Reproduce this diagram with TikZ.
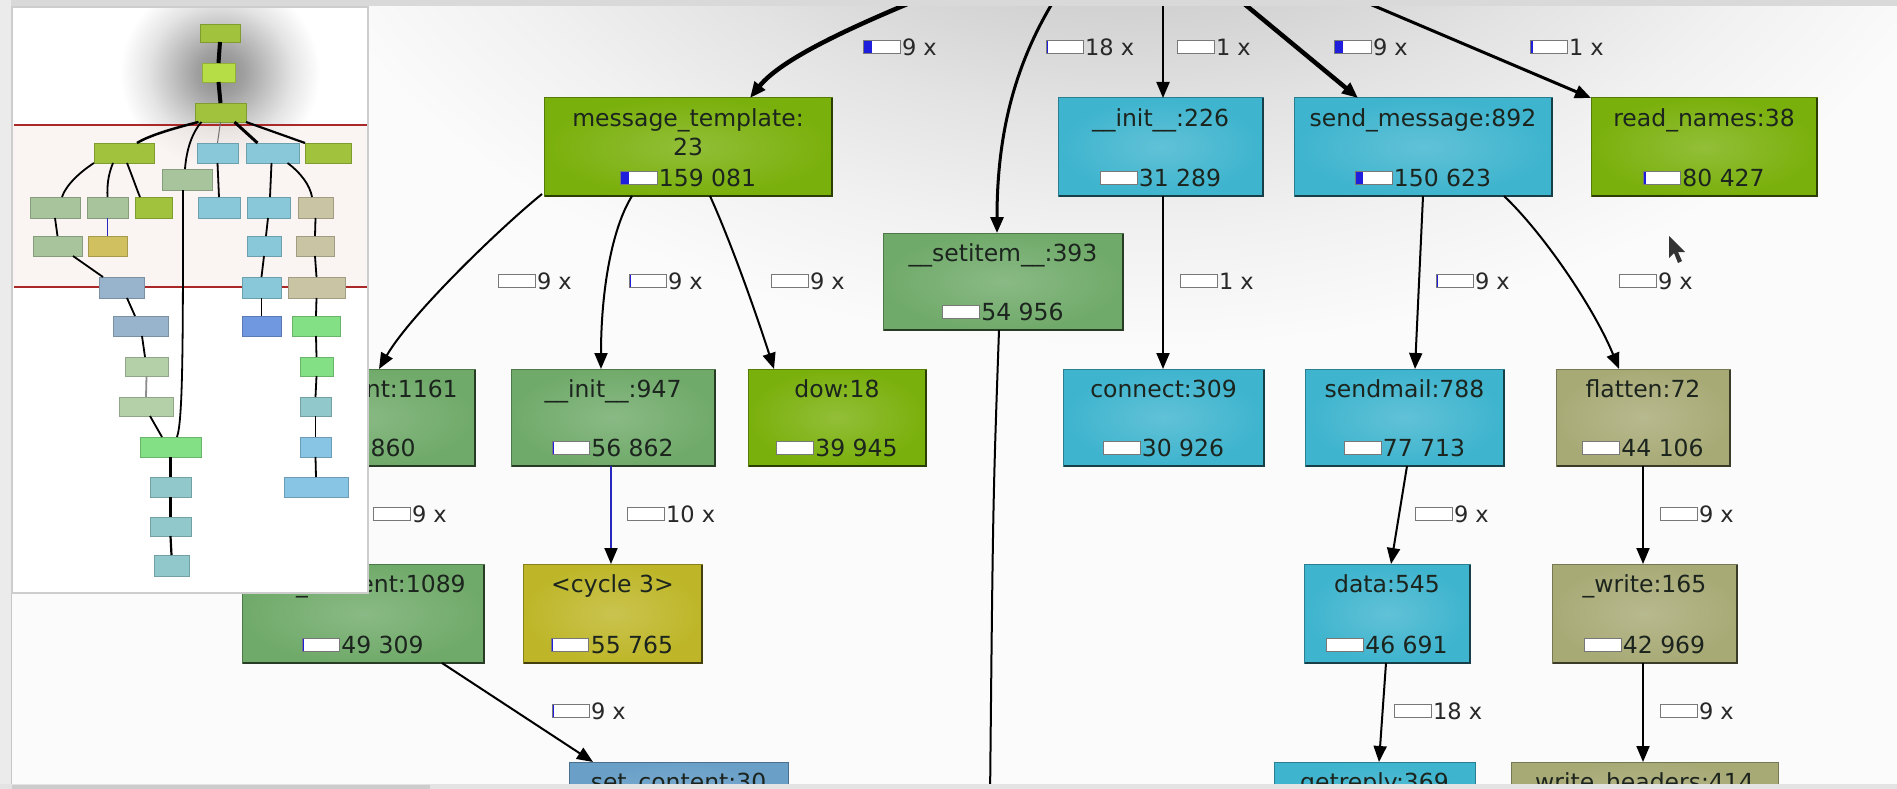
\documentclass[tikz,border=0pt]{standalone}
\usepackage{fontspec}
\setmainfont{DejaVu Sans}
\usetikzlibrary{arrows.meta,fit,calc}

\definecolor{pagebg}{RGB}{251,251,251}
\definecolor{gl0}{RGB}{168,168,168}
\definecolor{gl1}{RGB}{188,188,188}
\definecolor{gl2}{RGB}{209,209,209}
\definecolor{gl3}{RGB}{227,227,227}
\definecolor{gl4}{RGB}{241,241,241}
\definecolor{mg0}{RGB}{138,138,138}
\definecolor{mg1}{RGB}{160,160,160}
\definecolor{mg2}{RGB}{194,194,194}
\definecolor{mg3}{RGB}{228,228,228}
\definecolor{white0}{RGB}{255,255,255}
\pgfdeclareradialshading{mainglow}{\pgfpoint{0bp}{0bp}}{color(0bp)=(gl0); color(5bp)=(gl1); color(10bp)=(gl2); color(15bp)=(gl3); color(20bp)=(gl4); color(25bp)=(pagebg); color(50bp)=(pagebg)}
\pgfdeclareradialshading{miniglow}{\pgfpoint{0bp}{0bp}}{color(0bp)=(mg0); color(6bp)=(mg1); color(12bp)=(mg2); color(18bp)=(mg3); color(25bp)=(white0); color(50bp)=(white0)}

% main node colours
\definecolor{cMT}{RGB}{122,176,12}
\definecolor{cCy}{RGB}{62,180,206}
\definecolor{cSage}{RGB}{112,170,106}
\definecolor{cOl}{RGB}{190,182,40}
\definecolor{cKh}{RGB}{168,170,118}
\definecolor{cSteel}{RGB}{106,160,200}
\definecolor{ntxt}{RGB}{28,36,30}
\definecolor{ltxt}{RGB}{40,40,40}
\definecolor{barblue}{RGB}{30,30,220}
\definecolor{bargray}{RGB}{120,120,120}
\definecolor{eblue}{RGB}{40,40,190}
% minimap colours
\definecolor{mYG}{RGB}{160,194,60}
\definecolor{mYG2}{RGB}{182,220,70}
\definecolor{mCy}{RGB}{136,200,216}
\definecolor{mSage}{RGB}{168,196,156}
\definecolor{mKh}{RGB}{200,196,164}
\definecolor{mOl}{RGB}{208,192,96}
\definecolor{mSteel}{RGB}{152,180,204}
\definecolor{mBlue}{RGB}{112,152,224}
\definecolor{mGreen}{RGB}{132,224,132}
\definecolor{mTeal}{RGB}{144,200,204}
\definecolor{mLBlue}{RGB}{136,196,228}
\definecolor{mSage2}{RGB}{180,208,168}
\definecolor{vptint}{RGB}{248,238,236}
\definecolor{vpred}{RGB}{170,40,40}
\definecolor{panelgray}{RGB}{205,205,205}

\tikzset{
  ntext/.style={inner sep=0pt, outer sep=0pt, font=\fontsize{23.5}{28}\selectfont, text=ntxt, anchor=base},
  ltext/.style={inner sep=0pt, outer sep=0pt, font=\fontsize{22.5}{27}\selectfont, text=ltxt, anchor=base west},
  conn/.style={draw=black, line width=2pt, -{Triangle[length=16pt,width=13pt]}},
  mline/.style={draw=black, line width=1.8pt},
  mthick/.style={draw=black, line width=4pt},
}

\newcommand\cbar[2]{%
  \fill[white] ([xshift=-37pt,yshift=-6.5pt]#1) rectangle ([yshift=6.5pt]#1);
  \fill[barblue] ([xshift=-37pt,yshift=-6.5pt]#1) rectangle ([xshift={#2pt-37pt},yshift=6.5pt]#1);
  \draw[bargray, line width=0.8pt] ([xshift=-37pt,yshift=-6.5pt]#1) rectangle ([yshift=6.5pt]#1);
}
\newcommand\fnode[9]{%
  \node[fit={(#2,#3) (#4,#5)}, inner sep=0pt, outer sep=0pt, inner color=#6!82!white, outer color=#6, draw=#6!70!black, line width=1pt] (#1) {};
  \draw[line width=2.5pt, #6!35!black] ([xshift=0.5pt]#1.south west) -- (#1.south east) -- ([yshift=-0.5pt]#1.north east);
  \node[ntext] (#1-t) at ([yshift=-28.75pt]#1.north) {#7};
  \node[ntext] (#1-v) at ([xshift=19.5pt,yshift=9.25pt]#1.south) {#8};
  \coordinate (#1-bc) at ([xshift=-2pt,yshift=8.75pt]#1-v.base west);
  \cbar{#1-bc}{#9}%
}
\newcommand\tnode[7]{%
  \node[fit={(#2,#3) (#4,#5)}, inner sep=0pt, outer sep=0pt, inner color=#6!82!white, outer color=#6, draw=#6!70!black, line width=1pt] (#1) {};
  \node[ntext] (#1-t) at ([yshift=-28.75pt]#1.north) {#7};
}
\newcommand\elab[5]{%
  \coordinate (#1-bc) at ({#2+37},#3);
  \cbar{#1-bc}{#4}%
  \node[ltext] (#1) at ({#2+39},{#3+8.4}) {#5};
}
\newcommand\mnd[6]{%
  \node[fit={(#2,#3) (#4,#5)}, inner sep=0pt, outer sep=0pt, fill=#6, draw=#6!80!black, line width=0.6pt] (#1) {};
}

\begin{document}
\begin{tikzpicture}[x=1pt,y=-1pt]
\useasboundingbox (0,0) rectangle (1897,789);
\fill[pagebg] (0,0) rectangle (1897,789);

\begin{scope}
\clip (11,6) rectangle (1897,784);
\shade[shading=mainglow] (1130,-230) ellipse [x radius=880, y radius=580];

% ---------- main graph nodes ----------
\fnode{mt}{544}{98}{832}{196}{cMT}{message\_template:}{159 081}{9}
\node[ntext] (mt-t2) at ([yshift=-57.5pt]mt.north) {23};
\fnode{i226}{1058}{98}{1263}{196}{cCy}{\_\_init\_\_:226}{31 289}{1}
\fnode{sm}{1294}{98}{1552}{196}{cCy}{send\_message:892}{150 623}{8}
\fnode{rn}{1591}{98}{1817}{196}{cMT}{read\_names:38}{80 427}{3}
\fnode{si}{883}{233}{1123}{330}{cSage}{\_\_setitem\_\_:393}{54 956}{1}
\fnode{A}{235}{369}{475}{466}{cSage}{set\_content:1161}{61 860}{1}
\fnode{i947}{511}{369}{715}{466}{cSage}{\_\_init\_\_:947}{56 862}{1.5}
\fnode{dow}{748}{369}{926}{466}{cMT}{dow:18}{39 945}{1}
\fnode{con}{1063}{369}{1264}{466}{cCy}{connect:309}{30 926}{1}
\fnode{smail}{1305}{369}{1504}{466}{cCy}{sendmail:788}{77 713}{1.5}
\fnode{fl}{1556}{369}{1730}{466}{cKh}{flatten:72}{44 106}{1}
\fnode{B}{242}{564}{484}{663}{cSage}{set\_content:1089}{49 309}{1.5}
\fnode{cyc}{523}{564}{702}{663}{cOl}{<cycle 3>}{55 765}{1}
\fnode{data}{1304}{564}{1470}{663}{cCy}{data:545}{46 691}{1}
\fnode{wr}{1552}{564}{1737}{663}{cKh}{\_write:165}{42 969}{1}
\tnode{sc}{569}{762}{788}{860}{cSteel}{set\_content:30}
\tnode{gr}{1274}{762}{1475}{860}{cCy}{getreply:369}
\tnode{wh}{1511}{762}{1778}{860}{cKh}{write\_headers:414}

% ---------- connectors ----------
\coordinate (s1) at (912,2);
\coordinate (s2) at (1053,2);
\coordinate (s3) at (1163,2);
\coordinate (s4) at (1242,2);
\coordinate (s5) at (1365,2);
\coordinate (sid) at (990,800);
\draw[conn, line width=4.5pt] (s1) .. controls (855,26) and (782,58) .. ([xshift=62pt]mt.north);
\draw[conn, line width=3pt] (s2) .. controls (1012,70) and (997,140) .. ([xshift=-6pt]si.north);
\draw[conn] (s3) -- ([xshift=2.5pt]i226.north);
\draw[conn, line width=4.5pt] (s4) -- ([xshift=-65pt]sm.north);
\draw[conn, line width=3pt] (s5) -- (rn.north west);

\draw[conn] ([xshift=-2pt,yshift=2pt]mt.south west) .. controls (500,228) and (410,315) .. ([xshift=24pt]A.north);
\draw[conn] ([xshift=-56pt]mt.south) .. controls (612,228) and (601,290) .. ([xshift=-12pt]i947.north);
\draw[conn] ([xshift=22pt]mt.south) .. controls (730,240) and (755,310) .. ([xshift=-63pt]dow.north);
\draw[conn] ([xshift=2.5pt]i226.south) -- ([xshift=-0.5pt]con.north);
\draw[conn] (sm.south) -- ([xshift=10.5pt]smail.north);
\draw[conn] ([xshift=81pt]sm.south) .. controls (1545,235) and (1595,310) .. ([xshift=-24pt]fl.north);
\draw[line width=2pt] ([xshift=-4pt]si.south) .. controls (993,500) .. (sid);
\draw[conn] (A.south) -- ([xshift=-8pt]B.north);
\draw[conn, draw=eblue, -{Triangle[length=16pt,width=13pt,color=black,fill=black]}] ([xshift=-2pt]i947.south) -- ([xshift=-1.5pt]cyc.north);
\draw[conn] ([xshift=2.5pt]smail.south) -- ([xshift=4pt]data.north);
\draw[conn] (fl.south) -- ([xshift=-1.5pt]wr.north);
\draw[conn] ([xshift=79pt]B.south) -- ([xshift=-85.5pt]sc.north);
\draw[conn] ([xshift=-1pt]data.south) -- ([xshift=4.5pt]gr.north);
\draw[conn] ([xshift=-1.5pt]wr.south) -- ([xshift=-1.5pt]wh.north);

% ---------- connector labels ----------
\elab{l1}{863}{47}{9}{9 x}
\elab{l2}{1046}{47}{1.5}{18 x}
\elab{l3}{1177}{47}{1}{1 x}
\elab{l4}{1334}{47}{9}{9 x}
\elab{l5}{1530}{47}{3}{1 x}
\elab{l6}{498}{281}{1}{9 x}
\elab{l7}{629}{281}{1.5}{9 x}
\elab{l8}{771}{281}{1}{9 x}
\elab{l9}{1180}{281}{1}{1 x}
\elab{l10}{1436}{281}{2}{9 x}
\elab{l11}{1619}{281}{1}{9 x}
\elab{l12}{373}{514}{1}{9 x}
\elab{l13}{627}{514}{1}{10 x}
\elab{l14}{1415}{514}{1}{9 x}
\elab{l15}{1660}{514}{1}{9 x}
\elab{l16}{552}{711}{1.5}{9 x}
\elab{l17}{1394}{711}{1}{18 x}
\elab{l18}{1660}{711}{1}{9 x}

% mouse pointer
\fill[black!80] (1669,236) -- (1669,258) -- (1674,253) -- (1678,263) -- (1682,261) -- (1678,252) -- (1685,252) -- cycle;
\end{scope}

% ---------- window frame ----------
\fill[black!15] (0,0) rectangle (1897,6);
\fill[black!8] (0,0) rectangle (11,789);
\draw[black!22, line width=1pt] (11.5,6) -- (11.5,784);
\fill[black!11] (0,784) rectangle (1897,789);
\fill[black!20] (12,785) rectangle (430,789);

% ---------- minimap ----------
\fill[white] (12,7) rectangle (368,593);
\begin{scope}
\clip (12,7) rectangle (368,593);
\shade[shading=miniglow] (220,73) ellipse [x radius=100, y radius=96];
\fill[vptint, opacity=0.6] (12,125) rectangle (368,287);
\end{scope}
\draw[vpred, line width=1.5pt] (14,125) -- (368,125) (14,287) -- (368,287);
\draw[panelgray, line width=1.2pt] (12,7) rectangle (368,593);

\mnd{mroot}{200}{24}{240}{42}{mYG}
\mnd{mn2}{202}{63}{235}{82}{mYG2}
\mnd{mn3}{195}{103}{246}{122}{mYG}
\mnd{mmt}{94}{143}{154}{163}{mYG}
\mnd{mi226}{197}{143}{238}{163}{mCy}
\mnd{msm}{246}{143}{299}{163}{mCy}
\mnd{mrn}{305}{143}{351}{163}{mYG}
\mnd{msi}{162}{169}{212}{190}{mSage}
\mnd{mA}{30}{197}{80}{218}{mSage}
\mnd{mi947}{87}{197}{128}{218}{mSage}
\mnd{mdow}{135}{197}{172}{218}{mYG}
\mnd{mcon}{198}{197}{240}{218}{mCy}
\mnd{msmail}{247}{197}{290}{218}{mCy}
\mnd{mfl}{298}{197}{333}{218}{mKh}
\mnd{mB}{33}{236}{82}{256}{mSage}
\mnd{mcyc}{88}{236}{127}{256}{mOl}
\mnd{mdata}{247}{236}{281}{256}{mCy}
\mnd{mwr}{296}{236}{334}{256}{mKh}
\mnd{msc}{99}{277}{144}{298}{mSteel}
\mnd{mgr}{242}{277}{281}{298}{mCy}
\mnd{mwh}{288}{277}{345}{298}{mKh}
\mnd{mx1}{113}{316}{168}{336}{mSteel}
\mnd{mx2}{242}{316}{281}{336}{mBlue}
\mnd{mx3}{292}{316}{340}{336}{mGreen}
\mnd{mx4}{125}{357}{168}{376}{mSage2}
\mnd{mx5}{300}{357}{333}{376}{mGreen}
\mnd{mx6}{119}{397}{173}{416}{mSage2}
\mnd{mx7}{300}{397}{331}{416}{mTeal}
\mnd{mx8}{140}{437}{201}{457}{mGreen}
\mnd{mx9}{300}{437}{331}{457}{mLBlue}
\mnd{mx10}{150}{477}{191}{497}{mTeal}
\mnd{mx11}{284}{477}{348}{497}{mLBlue}
\mnd{mx12}{150}{517}{191}{536}{mTeal}
\mnd{mx13}{154}{555}{189}{576}{mTeal}

\draw[mthick] (mroot.south) -- (mn2.north);
\draw[mthick] (mn2.south) -- (mn3.north);
\draw[mline, line width=2.5pt] ([xshift=-22pt]mn3.south) .. controls (175,128) and (150,135) .. ([xshift=13pt]mmt.north);
\draw[mline] ([xshift=-19pt]mn3.south) .. controls (190,135) and (186,155) .. ([xshift=-2pt]msi.north);
\draw[line width=1pt, black!55] (mn3.south) -- (mi226.north);
\draw[mline, line width=3pt] ([xshift=14pt]mn3.south) -- ([xshift=-15pt]msm.north);
\draw[mline, line width=2.2pt] (mn3.south east) -- ([xshift=-23pt]mrn.north);
\draw[mline] (mmt.south west) .. controls (80,172) and (66,185) .. ([xshift=7pt]mA.north);
\draw[mline] ([xshift=-11pt]mmt.south) .. controls (108,175) and (107,186) .. (mi947.north);
\draw[mline] ([xshift=3pt]mmt.south) .. controls (133,178) and (137,190) .. ([xshift=-13.5pt]mdow.north);
\draw[mline] (mi226.south) -- (mcon.north);
\draw[mline] ([xshift=-1pt]msm.south) -- ([xshift=1.5pt]msmail.north);
\draw[mline] ([xshift=15pt]msm.south) .. controls (300,172) and (310,185) .. ([xshift=-3.5pt]mfl.north);
\draw[mline] (mA.south) -- (mB.north);
\draw[line width=1.8pt, eblue] (mi947.south) -- (mcyc.north);
\draw[mline] ([xshift=-0.5pt]msmail.south) -- ([xshift=2pt]mdata.north);
\draw[mline] (mfl.south) -- (mwr.north);
\draw[mline] ([xshift=15.5pt]mB.south) -- ([xshift=-18.5pt]msc.north);
\draw[mline] (mdata.south) -- (mgr.north);
\draw[mline] (mwr.south) -- (mwh.north);
\draw[mline] ([xshift=5.5pt]msc.south) -- ([xshift=-5.5pt]mx1.north);
\draw[mline] (mgr.south) -- (mx2.north);
\draw[mline] (mwh.south) -- (mx3.north);
\draw[mline] ([xshift=1.5pt]mx1.south) -- ([xshift=-1.5pt]mx4.north);
\draw[mline] (mx3.south) -- (mx5.north);
\draw[line width=1.8pt, black!45] (mx4.south) -- (mx6.north);
\draw[mline] (mx5.south) -- (mx7.north);
\draw[mline] ([xshift=4pt]mx6.south) -- ([xshift=-8.5pt]mx8.north);
\draw[mline] ([xshift=-4pt]msi.south) .. controls (183,340) and (183,420) .. ([xshift=6.5pt]mx8.north);
\draw[mline] (mx7.south) -- (mx9.north);
\draw[mline, line width=3pt] (mx8.south) -- (mx10.north);
\draw[mline] (mx9.south) -- (mx11.north);
\draw[mline, line width=3pt] (mx10.south) -- (mx12.north);
\draw[mline, line width=2.2pt] (mx12.south) -- (mx13.north);
\end{tikzpicture}
\end{document}
